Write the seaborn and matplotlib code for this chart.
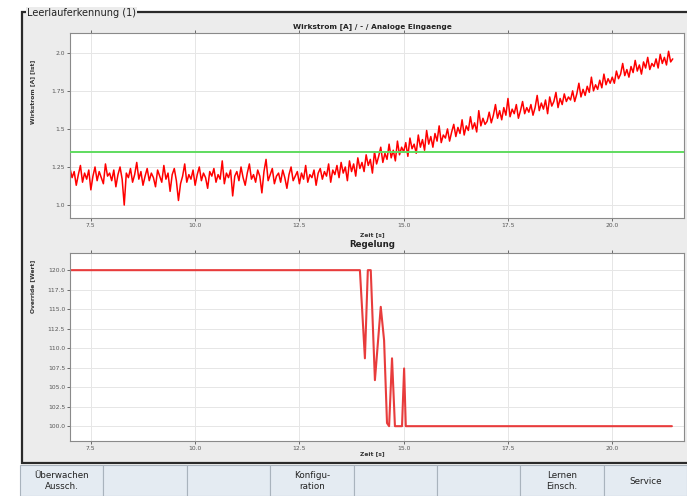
import numpy as np
import pandas as pd
import matplotlib
matplotlib.use("Agg")
import matplotlib.pyplot as plt
from matplotlib.patches import Rectangle
import seaborn as sns

# ------------------------------------------------------------------
# Data
# ------------------------------------------------------------------

T_START = 7.0
T_STEP = 0.05  # sample period of the current signal [s]

wirkstrom = [
    1.24, 1.18, 1.22, 1.13, 1.20, 1.26, 1.15, 1.21, 1.17, 1.23, 1.10, 1.19, 1.25, 1.16, 1.22, 1.18, 1.14, 1.27, 1.19, 1.21,
    1.16, 1.23, 1.12, 1.20, 1.25, 1.17, 1.00, 1.21, 1.18, 1.24, 1.15, 1.20, 1.28, 1.17, 1.22, 1.13, 1.19, 1.24, 1.16, 1.21,
    1.18, 1.12, 1.23, 1.19, 1.15, 1.26, 1.17, 1.21, 1.09, 1.20, 1.24, 1.16, 1.03, 1.14, 1.19, 1.27, 1.15, 1.20, 1.17, 1.23,
    1.13, 1.20, 1.25, 1.16, 1.21, 1.18, 1.11, 1.22, 1.19, 1.24, 1.15, 1.20, 1.17, 1.29, 1.14, 1.21, 1.18, 1.23, 1.06, 1.19,
    1.22, 1.16, 1.25, 1.18, 1.13, 1.21, 1.27, 1.17, 1.20, 1.15, 1.23, 1.19, 1.08, 1.22, 1.30, 1.16, 1.20, 1.24, 1.14, 1.19,
    1.21, 1.15, 1.23, 1.18, 1.11, 1.20, 1.25, 1.16, 1.19, 1.22, 1.14, 1.21, 1.17, 1.26, 1.15, 1.20, 1.18, 1.23, 1.13, 1.21,
    1.24, 1.17, 1.22, 1.19, 1.27, 1.15, 1.23, 1.20, 1.26, 1.18, 1.28, 1.21, 1.25, 1.16, 1.29, 1.22, 1.27, 1.19, 1.31, 1.24,
    1.28, 1.22, 1.33, 1.26, 1.30, 1.21, 1.35, 1.27, 1.32, 1.38, 1.28, 1.34, 1.30, 1.40, 1.31, 1.36, 1.29, 1.42, 1.33, 1.38,
    1.35, 1.41, 1.32, 1.44, 1.37, 1.40, 1.34, 1.46, 1.38, 1.43, 1.36, 1.49, 1.40, 1.45, 1.38, 1.47, 1.42, 1.52, 1.41, 1.46,
    1.44, 1.50, 1.42, 1.48, 1.53, 1.45, 1.51, 1.47, 1.56, 1.46, 1.52, 1.49, 1.58, 1.50, 1.54, 1.48, 1.62, 1.52, 1.57, 1.53,
    1.55, 1.61, 1.54, 1.59, 1.66, 1.57, 1.62, 1.56, 1.64, 1.59, 1.70, 1.58, 1.63, 1.60, 1.66, 1.57, 1.62, 1.68, 1.60, 1.64,
    1.61, 1.66, 1.59, 1.64, 1.72, 1.62, 1.67, 1.63, 1.69, 1.60, 1.71, 1.65, 1.68, 1.74, 1.64, 1.70, 1.66, 1.73, 1.68, 1.71,
    1.69, 1.75, 1.68, 1.73, 1.80, 1.71, 1.76, 1.72, 1.78, 1.74, 1.84, 1.75, 1.79, 1.76, 1.82, 1.77, 1.86, 1.79, 1.83, 1.80,
    1.84, 1.80, 1.88, 1.83, 1.86, 1.93, 1.85, 1.89, 1.84, 1.91, 1.87, 1.95, 1.88, 1.92, 1.86, 1.94, 1.90, 1.97, 1.89, 1.93,
    1.91, 1.96, 1.90, 1.99, 1.93, 1.97, 1.92, 2.01, 1.94, 1.96,
]
schwelle = 1.35  # green threshold line

override_t = [7.0, 13.95, 14.07, 14.14, 14.21, 14.31, 14.45, 14.53, 14.60, 14.65, 14.72, 14.79, 14.96, 15.01, 15.05, 21.43]
override_v = [120, 120, 108.7, 120, 120, 105.9, 115.3, 111.0, 100.4, 100, 108.7, 100, 100, 107.4, 100, 100]

x_ticks = [7.5, 10.0, 12.5, 15.0, 17.5, 20.0]
y1_ticks = [1.0, 1.25, 1.5, 1.75, 2.0]
y1_labels = ["1.0", "1.25", "1.5", "1.75", "2.0"]
y2_ticks = [100.0, 102.5, 105.0, 107.5, 110.0, 112.5, 115.0, 117.5, 120.0]

buttons = ["Überwachen\nAussch.", "", "", "Konfigu-\nration", "", "", "Lernen\nEinsch.", "Service"]

# ------------------------------------------------------------------
# Figure layout in pixels
# ------------------------------------------------------------------

W, H = 687, 496
sns.set_theme(style="whitegrid")
plt.rcParams["font.family"] = ["DejaVu Sans"]

fig = plt.figure(figsize=(W / 100, H / 100), dpi=100)
fig.patch.set_facecolor("#ffffff")


def box(l, t, r, b):
    return [l / W, 1 - b / H, (r - l) / W, (b - t) / H]


# group box frame (behind the axes)
fig.patches.append(Rectangle((22 / W, 1 - 463 / H), (690 - 22) / W, (463 - 12) / H,
                             transform=fig.transFigure, facecolor="#ececec",
                             edgecolor="#2a2a2a", linewidth=1.6, zorder=-2))
fig.text(27 / W, 1 - 13 / H, "Leerlauferkennung (1)", fontsize=7, color="#222222",
         ha="left", va="center",
         bbox=dict(facecolor="#ececec", edgecolor="none", pad=0.8))

# buttons
bw = (W - 20) / len(buttons)
for i, lab in enumerate(buttons):
    x0 = 20 + i * bw
    fig.patches.append(Rectangle((x0 / W, 0), bw / W, (H - 465) / H, transform=fig.transFigure,
                                 facecolor="#e4ebf2", edgecolor="#a9b3bd", linewidth=0.8, zorder=-2))
    fig.text((x0 + bw / 2) / W, 1 - 481 / H, lab, fontsize=6.3, color="#222222",
             ha="center", va="center", linespacing=1.3)

ax1 = fig.add_axes(box(70, 33, 684, 218))
ax2 = fig.add_axes(box(70, 253, 684, 441))

# ------------------------------------------------------------------
# Plots
# ------------------------------------------------------------------

t = T_START + T_STEP * np.arange(len(wirkstrom))
df1 = pd.DataFrame({"t": t, "i": wirkstrom})
sns.lineplot(data=df1, x="t", y="i", ax=ax1, color="#ff0000", linewidth=1.1, estimator=None)
ax1.axhline(schwelle, color="#5fdc5f", linewidth=1.4, zorder=3)

df2 = pd.DataFrame({"t": override_t, "v": override_v})
sns.lineplot(data=df2, x="t", y="v", ax=ax2, color="#e83c3c", linewidth=1.5, estimator=None, sort=False)

for ax in (ax1, ax2):
    ax.set_facecolor("#ffffff")
    ax.set_xlim(7.0, 21.72)
    ax.set_xticks(x_ticks)
    ax.set_xticklabels([f"{v:.1f}" for v in x_ticks])
    ax.set_xlabel("")
    ax.set_ylabel("")
    ax.grid(True, color="#e6e6e6", linewidth=0.7)
    ax.tick_params(axis="both", labelsize=4.3, colors="#555555", length=2, width=0.6,
                   pad=1.5, bottom=True, left=True, top=True)
    for s in ax.spines.values():
        s.set_color("#8a8a8a")
        s.set_linewidth(0.8)

ax1.set_ylim(0.915, 2.13)
ax1.set_yticks(y1_ticks)
ax1.set_yticklabels(y1_labels)

ax2.set_ylim(98.1, 122.2)
ax2.set_yticks(y2_ticks)
ax2.set_yticklabels([f"{v:.1f}" for v in y2_ticks])

# titles and labels placed by pixel
cx = 372 / W
fig.text(cx, 1 - 27 / H, "Wirkstrom [A] / - / Analoge Eingaenge", fontsize=5.3,
         fontweight="bold", ha="center", va="center", color="#222222")
fig.text(cx, 1 - 235 / H, "Zeit [s]", fontsize=4.3, fontweight="bold", ha="center",
         va="center", color="#333333")
fig.text(cx, 1 - 245 / H, "Regelung", fontsize=6.2, fontweight="bold", ha="center",
         va="center", color="#222222")
fig.text(cx, 1 - 454 / H, "Zeit [s]", fontsize=4.3, fontweight="bold", ha="center",
         va="center", color="#333333")
fig.text(33 / W, 1 - 60 / H, "Wirkstrom [A] [Ist]", fontsize=4.3, fontweight="bold",
         rotation=90, ha="center", va="top", color="#333333")
fig.text(33 / W, 1 - 260 / H, "Override [Wert]", fontsize=4.3, fontweight="bold",
         rotation=90, ha="center", va="top", color="#333333")

fig.savefig("out.png", dpi=100)
